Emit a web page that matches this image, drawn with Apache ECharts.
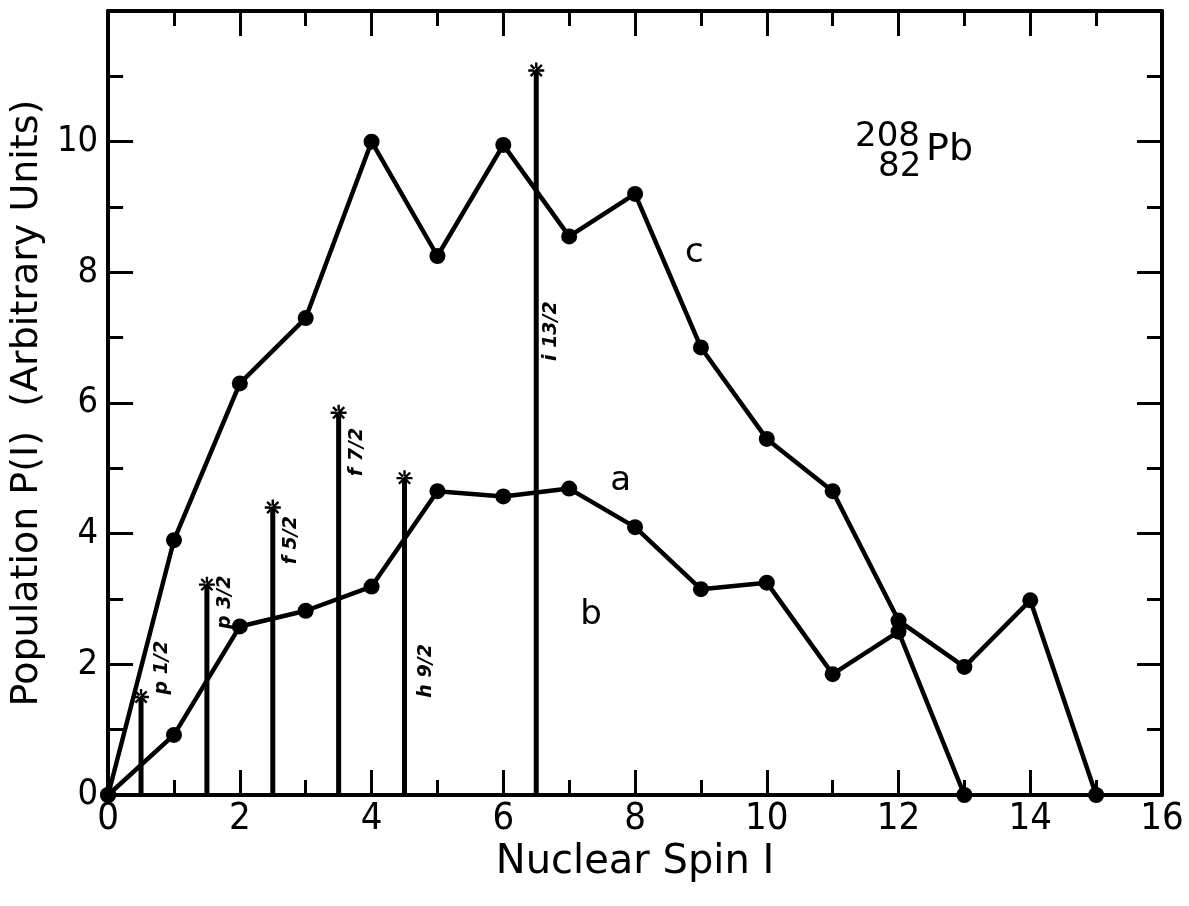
<!DOCTYPE html>
<html>
<head>
<meta charset="utf-8">
<script src="https://cdn.jsdelivr.net/npm/echarts@6/dist/echarts.min.js"></script>
<style>
  html, body { margin: 0; padding: 0; background: #fff; }
  #chart { width: 1189px; height: 906px; }
</style>
</head>
<body>
<div id="chart"></div>
<script>
// curve c (upper) and curve a (lower), population vs spin
var spinC = [0, 1, 2, 3, 4, 5, 6, 7, 8, 9, 10, 11, 12, 13, 14, 15];
var popC = [0, 3.9, 6.3, 7.3, 10.0, 8.25, 9.95, 8.55, 9.2, 6.85, 5.45, 4.65, 2.67, 1.96, 2.98, 0];
var spinA = [0, 1, 2, 3, 4, 5, 6, 7, 8, 9, 10, 11, 12, 13];
var popA = [0, 0.92, 2.58, 2.82, 3.19, 4.65, 4.57, 4.69, 4.1, 3.15, 3.25, 1.85, 2.5, 0];

// single-particle states (b)
var stickSpin = [0.5, 1.5, 2.5, 3.5, 4.5, 6.5];
var stickHeight = [1.5, 3.22, 4.4, 5.85, 4.85, 11.09];
var stickName = ['p 1/2', 'p 3/2', 'f 5/2', 'f 7/2', 'h 9/2', 'i 13/2'];
var stickNameX = [0.82, 1.77, 2.78, 3.78, 4.82, 6.72];
var stickNameY = [1.95, 2.95, 3.9, 5.25, 1.9, 7.1];

// curve letters
var noteText = ['a', 'b', 'c'];
var noteX = [7.78, 7.33, 8.9];
var noteY = [4.8, 2.75, 8.3];

var xTicks = ['0', '2', '4', '6', '8', '10', '12', '14', '16'];
var yTicks = ['0', '2', '4', '6', '8', '10'];

var font = 'DejaVu Sans';
var numFont = "'DejaVu Sans Condensed', 'DejaVu Sans'";
var ink = '#000';

function pairs(xs, ys) {
    return xs.map(function (x, i) { return [x, ys[i]]; });
}

// asterisk marker
var starPath = 'path://M-1.5,-10L1.5,-10L1.5,10L-1.5,10Z' +
    'M-10,-1.5L10,-1.5L10,1.5L-10,1.5Z' +
    'M6,-8.1L8.1,-6L-6,8.1L-8.1,6Z' +
    'M-6,-8.1L-8.1,-6L6,8.1L8.1,6Z';

function makeX(pos, labels) {
    return {
        type: 'value', position: pos, min: 0, max: 16, interval: 2,
        axisLine: { show: true, onZero: false, lineStyle: { color: ink, width: 4 } },
        axisTick: { show: true, inside: true, length: 25, lineStyle: { color: ink, width: 3 } },
        minorTick: { show: true, splitNumber: 2, length: 15, lineStyle: { color: ink, width: 3 } },
        splitLine: { show: false },
        axisLabel: {
            show: labels, color: ink, fontFamily: numFont, fontSize: 38, margin: 5,
            formatter: function (v) { return xTicks[v / 2]; }
        },
        name: labels ? 'Nuclear Spin I' : '',
        nameLocation: 'middle', nameGap: 45,
        nameTextStyle: { color: ink, fontFamily: font, fontSize: 40 }
    };
}

function makeY(pos, labels) {
    return {
        type: 'value', position: pos, min: 0, max: 12, interval: 2,
        axisLine: { show: true, onZero: false, lineStyle: { color: ink, width: 4 } },
        axisTick: { show: true, inside: true, length: 25, lineStyle: { color: ink, width: 3 } },
        minorTick: { show: true, splitNumber: 2, length: 15, lineStyle: { color: ink, width: 3 } },
        splitLine: { show: false },
        axisLabel: {
            show: labels, color: ink, fontFamily: numFont, fontSize: 36, margin: 10,
            formatter: function (v) { return yTicks[v / 2] || ''; }
        },
        name: labels ? 'Population P(I)  (Arbitrary Units)' : '',
        nameLocation: 'middle', nameGap: 43,
        nameTextStyle: { color: ink, fontFamily: font, fontSize: 38 }
    };
}

var chart = echarts.init(document.getElementById('chart'));

chart.setOption({
    animation: false,
    backgroundColor: '#fff',
    grid: { left: 107, right: 27, top: 11, bottom: 111 },
    xAxis: [makeX('bottom', true), makeX('top', false)],
    yAxis: [makeY('left', true), makeY('right', false)],
    graphic: [
        { type: 'text', left: 855, top: 120, style: { text: '208', font: '34px DejaVu Sans', fill: ink } },
        { type: 'text', left: 878, top: 150, style: { text: '82', font: '34px DejaVu Sans', fill: ink } },
        { type: 'text', left: 926, top: 131, style: { text: 'Pb', font: '38px DejaVu Sans', fill: ink } }
    ],
    series: [
        {
            name: 'b', type: 'bar', barWidth: 5,
            data: pairs(stickSpin, stickHeight),
            itemStyle: { color: ink }
        },
        {
            name: 'b-top', type: 'scatter', symbol: starPath, symbolSize: 16,
            data: pairs(stickSpin, stickHeight),
            itemStyle: { color: ink, opacity: 1 }, z: 4
        },
        {
            name: 'c', type: 'line', data: pairs(spinC, popC),
            symbol: 'circle', symbolSize: 16, showAllSymbol: true,
            lineStyle: { color: ink, width: 4.5 }, itemStyle: { color: ink }, z: 3
        },
        {
            name: 'a', type: 'line', data: pairs(spinA, popA),
            symbol: 'circle', symbolSize: 16, showAllSymbol: true,
            lineStyle: { color: ink, width: 4.5 }, itemStyle: { color: ink }, z: 3
        },
        {
            name: 'state labels', type: 'scatter', symbolSize: 0,
            itemStyle: { color: ink, opacity: 1 },
            data: stickName.map(function (s, i) {
                return { name: s, value: [stickNameX[i], stickNameY[i]] };
            }),
            label: {
                show: true, position: 'inside', rotate: 90, formatter: '{b}', opacity: 1,
                color: ink, fontFamily: font, fontSize: 19, fontWeight: 'bold', fontStyle: 'italic',
                textBorderWidth: 0
            },
            z: 5
        },
        {
            name: 'curve labels', type: 'scatter', symbolSize: 0,
            itemStyle: { color: ink, opacity: 1 },
            data: noteText.map(function (s, i) {
                return { name: s, value: [noteX[i], noteY[i]] };
            }),
            label: {
                show: true, position: 'inside', formatter: '{b}', opacity: 1,
                color: ink, fontFamily: font, fontSize: 34, textBorderWidth: 0
            },
            z: 5
        }
    ]
});
</script>
</body>
</html>
